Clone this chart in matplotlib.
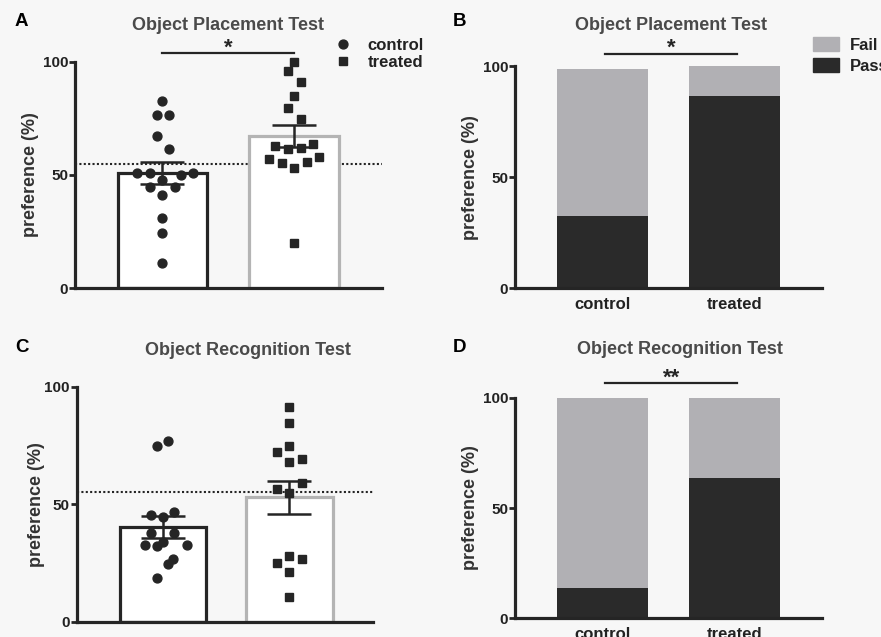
import matplotlib.pyplot as plt
import matplotlib.patches as mpatches
from matplotlib.lines import Line2D
import numpy as np

plt.rcParams['font.family'] = ['Liberation Sans', 'DejaVu Sans']
plt.rcParams['font.weight'] = 'bold'

groups = ["control", "treated"]

# panel A - object placement, individual preference (%)
opt_control = [82.5, 76.6, 76.6, 67.4, 61.5, 50.7, 50.7, 50.7, 50.0, 47.8,
               44.5, 44.5, 41.2, 31.0, 24.6, 11.1]
opt_control_jit = [0, -0.045, 0.05, -0.045, 0.05, -0.19, -0.095, 0.234, 0.138, 0,
                   -0.095, 0.095, 0, 0, 0, 0]
opt_treated = [100.0, 95.7, 91.1, 84.8, 79.6, 74.9, 62.9, 61.4, 61.9, 63.8,
               56.9, 55.4, 53.0, 55.7, 57.9, 20.2]
opt_treated_jit = [0, -0.048, 0.051, 0, -0.048, 0.051, -0.144, -0.048, 0.051, 0.142,
                   -0.19, -0.094, 0, 0.096, 0.19, 0]

# panel C - object recognition, individual preference (%)
ort_control = [74.9, 76.9, 45.4, 44.7, 46.8, 37.6, 37.6, 32.6, 32.4, 33.8,
               32.6, 26.5, 24.5, 18.5]
ort_control_jit = [-0.05, 0.042, -0.097, 0, 0.087, -0.097, 0.087, -0.142, -0.05, 0,
                   0.187, 0.082, 0.042, -0.05]
ort_treated = [91.5, 84.4, 74.8, 72.1, 68.1, 69.1, 59.2, 56.5, 54.6, 28.1,
               26.5, 25.1, 21.0, 10.6]
ort_treated_jit = [0, 0, 0, -0.096, 0, 0.096, 0.096, -0.096, 0, 0,
                   0.096, -0.096, 0, 0]

chance = 55

# panels B and D - pass / fail (%)
opt_pass = [32.7, 86.6]
opt_fail = [66.0, 13.4]
ort_pass = [13.6, 63.7]
ort_fail = [86.4, 36.3]

DARK = "#252525"
GREY_EDGE = "#b4b4b4"
FAIL = "#b1b0b4"
PASS = "#2a2a2a"
BG = "#f7f7f7"

W, H = 881, 637
fig = plt.figure(figsize=(W / 100, H / 100), dpi=100, facecolor=BG)


def px_axes(x0, x1, y_top, y_bot):
    return fig.add_axes([x0 / W, 1 - y_bot / H, (x1 - x0) / W, (y_bot - y_top) / H])


def style(ax, xlim, label_x):
    ax.set_facecolor("none")
    ax.set_xlim(*xlim)
    ax.set_ylim(0, 100)
    for s in ["top", "right"]:
        ax.spines[s].set_visible(False)
    for s in ["left", "bottom"]:
        ax.spines[s].set_linewidth(2.3)
        ax.spines[s].set_color(DARK)
    ax.set_yticks([0, 50, 100])
    ax.tick_params(axis="y", length=4, width=2, color=DARK, labelsize=11,
                   labelcolor="#222222", pad=1)
    ax.set_ylabel("preference (%)", fontsize=13, fontweight="bold", color="#333333")
    ax.yaxis.set_label_coords(label_x, 0.5)


def dot_panel(ax, ctrl, ctrl_j, trt, trt_j):
    width = 0.68
    ax.bar(0, np.mean(ctrl), width=width, color="white", edgecolor=DARK, linewidth=2.3, zorder=2)
    ax.bar(1, np.mean(trt), width=width, color="white", edgecolor=GREY_EDGE, linewidth=2.3, zorder=2)
    ax.axhline(chance, ls=(0, (1, 1.1)), color=DARK, lw=1.5, zorder=1)
    ax.plot(np.array(ctrl_j), ctrl, "o", color=DARK, ms=6.4, zorder=4, clip_on=False, label="control")
    ax.plot(1 + np.array(trt_j), trt, "s", color=DARK, ms=6.0, zorder=4, clip_on=False, label="treated")
    for i, vals in enumerate([ctrl, trt]):
        sem = np.std(vals, ddof=1) / np.sqrt(len(vals))
        ax.errorbar(i, np.mean(vals), yerr=sem, color=DARK, lw=1.8, capsize=16,
                    capthick=1.8, zorder=5)
    ax.set_xticks([])


def stack_panel(ax, passed, failed):
    x = np.arange(len(groups))
    ax.bar(x, passed, width=0.69, color=PASS, zorder=2, label="Pass")
    ax.bar(x, failed, bottom=passed, width=0.69, color=FAIL, zorder=2, label="Fail")
    ax.set_xticks(x)
    ax.set_xticklabels(groups, fontsize=12, fontweight="bold", color="#222222")
    ax.tick_params(axis="x", length=0, pad=6)


# A
axA = px_axes(75, 382, 61.7, 288.3)
style(axA, (-0.665, 1.669), -0.118)
dot_panel(axA, opt_control, opt_control_jit, opt_treated, opt_treated_jit)
axA.plot([0, 1], [104, 104], color=DARK, lw=1.6, clip_on=False)
axA.text(0.5, 103.5, "*", ha="center", va="baseline", fontsize=16, color=DARK)

# B
axB = px_axes(515, 821.7, 66, 288.3)
style(axB, (-0.668, 1.665), -0.118)
stack_panel(axB, opt_pass, opt_fail)
axB.plot([0.02, 1.02], [105.3, 105.3], color=DARK, lw=1.6, clip_on=False)
axB.text(0.52, 105.3, "*", ha="center", va="baseline", fontsize=16, color=DARK)

# C
axC = px_axes(76.7, 373, 386.7, 621.7)
style(axC, (-0.682, 1.66), -0.108)
dot_panel(axC, ort_control, ort_control_jit, ort_treated, ort_treated_jit)

# D
axD = px_axes(515, 821.7, 397.7, 618.3)
style(axD, (-0.668, 1.665), -0.118)
stack_panel(axD, ort_pass, ort_fail)
axD.plot([0.02, 1.02], [106.8, 106.8], color=DARK, lw=1.6, clip_on=False)
axD.text(0.52, 106.3, "**", ha="center", va="baseline", fontsize=16, color=DARK)

# titles and panel letters
for txt, x, y in [("Object Placement Test", 228, 25), ("Object Placement Test", 671, 25),
                  ("Object Recognition Test", 248, 350), ("Object Recognition Test", 680, 349)]:
    fig.text(x / W, 1 - y / H, txt, ha="center", va="center", fontsize=13,
             fontweight="bold", color="#4a4a4a")
for txt, x, y in [("A", 15, 21), ("B", 453, 21), ("C", 15, 348), ("D", 453, 348)]:
    fig.text(x / W, 1 - y / H, txt, ha="left", va="center", fontsize=13.5,
             fontweight="bold", color="black")

# legends
hA = [Line2D([], [], marker="o", ls="", color=DARK, ms=6.4, label="control"),
      Line2D([], [], marker="s", ls="", color=DARK, ms=6.0, label="treated")]
fig.legend(handles=hA, loc="upper left", bbox_to_anchor=(335 / W, 1 - 38 / H),
           frameon=False, fontsize=12, handlelength=1.0, handletextpad=0.95,
           borderpad=0, borderaxespad=0, labelspacing=0.1, labelcolor="#222222")
hB = [mpatches.Patch(color=FAIL, label="Fail"), mpatches.Patch(color=PASS, label="Pass")]
fig.legend(handles=hB, loc="upper left", bbox_to_anchor=(813 / W, 1 - 37 / H),
           frameon=False, fontsize=12, handlelength=1.55, handleheight=0.95,
           handletextpad=0.65, borderpad=0, borderaxespad=0, labelspacing=0.3,
           labelcolor="#222222")

fig.savefig("out.png", dpi=100, facecolor=BG)
